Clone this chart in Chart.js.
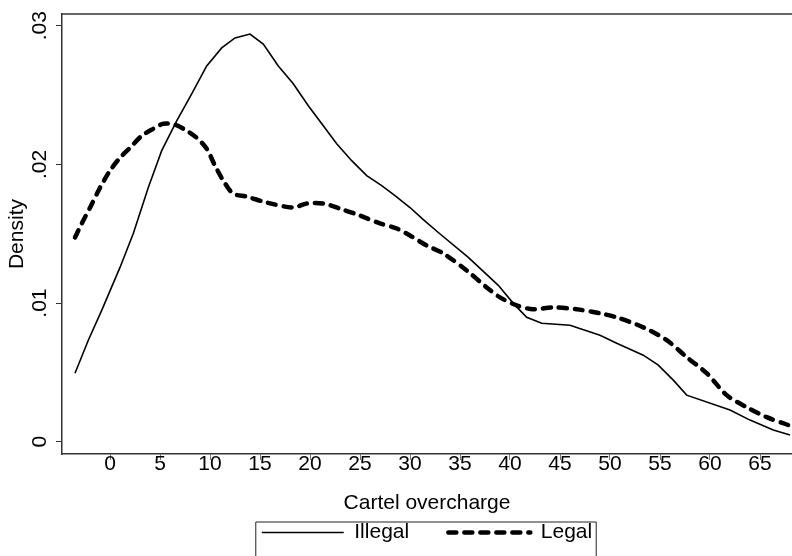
<!DOCTYPE html>
<html lang="en">
<head>
  <meta charset="UTF-8">
  <title>Cartel overcharge density</title>
  <script src="https://cdn.jsdelivr.net/npm/chart.js"></script>
  <style>
    html, body {
      margin: 0;
      padding: 0;
      background: #fff;
      overflow: hidden;
    }
    #wrap {
      position: relative;
      width: 792px;
      height: 556px;
    }
  </style>
</head>
<body>
  <div id="wrap"><canvas id="chart"></canvas></div>

  <script>
    // values (x = overcharge, y = density)
    const illegalX = [-3.5, -2.17, -0.83, 1.0, 2.33, 3.83, 5.17, 6.67, 8.17, 9.67, 11.17, 12.5, 14.0, 15.33,
      16.83, 18.33, 19.83, 21.33, 22.67, 24.17, 25.67, 27.17, 28.5, 30.0, 31.33, 32.83, 35.83, 38.83,
      40.33, 41.67, 43.17, 46.0, 49.0, 50.67, 53.33, 54.83, 56.33, 57.67, 62.0, 64.0, 66.33, 68.0];
    const illegalY = [0.00494, 0.00732, 0.00947, 0.01257, 0.01502, 0.01833, 0.02099, 0.02314, 0.02509,
      0.0271, 0.0284, 0.02912, 0.0294, 0.02868, 0.0271, 0.02581, 0.02423, 0.02279, 0.02149, 0.02027,
      0.01919, 0.01847, 0.01775, 0.01689, 0.01602, 0.01509, 0.01329, 0.01128, 0.00998, 0.00897,
      0.00854, 0.0084, 0.00768, 0.0071, 0.00624, 0.00552, 0.00444, 0.00336, 0.00228, 0.00156,
      0.00084, 0.00048];

    const legalX = [-3.5, -2.83, -2.0, -1.0, 0.0, 1.0, 2.0, 3.17, 4.33, 5.33, 6.5, 7.67, 8.67, 9.67, 10.5,
      11.33, 12.33, 13.67, 15.67, 18.33, 19.67, 21.33, 23.0, 25.0, 27.0, 28.67, 30.0, 31.67, 33.33,
      35.67, 37.67, 39.0, 40.67, 42.33, 44.33, 46.67, 49.0, 50.67, 53.33, 55.67, 57.67, 59.67, 61.67,
      63.67, 65.67, 67.83];
    const legalY = [0.01473, 0.01573, 0.01688, 0.01832, 0.01955, 0.02048, 0.0212, 0.02206, 0.02257,
      0.02293, 0.02286, 0.02243, 0.02192, 0.02113, 0.01991, 0.01883, 0.01789, 0.01768, 0.01725,
      0.01689, 0.01718, 0.01718, 0.01681, 0.01631, 0.01574, 0.01538, 0.01487, 0.01415, 0.01358,
      0.01235, 0.01113, 0.01041, 0.00983, 0.00955, 0.00969, 0.00955, 0.00926, 0.00897, 0.00825,
      0.00732, 0.0061, 0.00494, 0.00336, 0.00249, 0.00177, 0.0012];

    const xTicks = [0, 5, 10, 15, 20, 25, 30, 35, 40, 45, 50, 55, 60, 65];
    const yTicks = [0, 0.01, 0.02, 0.03];

    const FONT = '"Liberation Sans", Arial, Helvetica, sans-serif';
    const AXIS = '#333';

    function toPoints(xs, ys) {
      return xs.map((x, i) => ({ x: x, y: ys[i] }));
    }

    // top frame line + box round the legend
    const framePlugin = {
      id: 'frame',
      afterDraw(chart) {
        const ctx = chart.ctx;
        const a = chart.chartArea;
        ctx.save();
        ctx.strokeStyle = AXIS;
        ctx.lineWidth = 1.5;
        ctx.beginPath();
        ctx.moveTo(a.left, a.top);
        ctx.lineTo(a.right + 2, a.top);
        ctx.stroke();

        const hb = chart.legend.legendHitBoxes;
        if (hb && hb.length) {
          const first = hb[0];
          const last = hb[hb.length - 1];
          const left = first.left - 6;
          const right = last.left + last.width + 4;
          const top = first.top;
          ctx.lineWidth = 1;
          ctx.strokeStyle = '#222';
          ctx.beginPath();
          ctx.moveTo(left, chart.height + 5);
          ctx.lineTo(left, top);
          ctx.lineTo(right, top);
          ctx.lineTo(right, chart.height + 5);
          ctx.stroke();
        }
        ctx.restore();
      }
    };

    new Chart(document.getElementById('chart'), {
      type: 'line',
      data: {
        datasets: [{
          label: 'Illegal',
          data: toPoints(illegalX, illegalY),
          borderColor: '#000',
          backgroundColor: '#000',
          borderWidth: 1.6,
          pointRadius: 0,
          tension: 0,
          fill: false
        }, {
          label: 'Legal',
          data: toPoints(legalX, legalY),
          borderColor: '#000',
          backgroundColor: '#000',
          borderWidth: 4.5,
          borderDash: [8, 8],
          borderCapStyle: 'round',
          pointRadius: 0,
          tension: 0.3,
          fill: false
        }]
      },
      options: {
        responsive: true,
        maintainAspectRatio: false,
        animation: false,
        layout: { padding: { top: 13, left: 0, right: 0, bottom: 3 } },
        plugins: {
          tooltip: { enabled: false },
          legend: {
            position: 'bottom',
            fullSize: false,
            labels: {
              usePointStyle: true,
              pointStyle: 'line',
              pointStyleWidth: 82,
              padding: 10,
              color: '#000',
              font: { family: FONT, size: 21 },
              generateLabels(chart) {
                const items = Chart.defaults.plugins.legend.labels.generateLabels(chart);
                items.forEach((it, i) => {
                  const ds = chart.data.datasets[it.datasetIndex];
                  it.pointStyle = 'line';
                  it.lineDash = ds.borderDash || [];
                  it.lineCap = ds.borderCapStyle || 'butt';
                  it.lineWidth = ds.borderWidth;
                  if (i === 0) it.text = it.text + '     ';
                });
                return items;
              }
            }
          }
        },
        scales: {
          x: {
            type: 'linear',
            min: -4.8,
            max: 68.2,
            afterBuildTicks(scale) {
              scale.ticks = xTicks.map(v => ({ value: v }));
            },
            afterFit(scale) {
              scale.height = 58;
            },
            ticks: {
              autoSkip: false,
              maxRotation: 0,
              padding: -8,
              color: '#000',
              font: { family: FONT, size: 21 },
              callback: v => String(v)
            },
            grid: {
              drawOnChartArea: false,
              drawTicks: true,
              tickLength: 6,
              color: '#777'
            },
            border: { display: true, color: AXIS, width: 1.5 },
            title: {
              display: true,
              text: 'Cartel overcharge',
              color: '#000',
              font: { family: FONT, size: 21 },
              padding: { top: 0, bottom: -4 }
            }
          },
          y: {
            type: 'linear',
            min: -0.000885,
            max: 0.03084,
            afterBuildTicks(scale) {
              scale.ticks = yTicks.map(v => ({ value: v }));
            },
            afterFit(scale) {
              scale.width = 62;
            },
            ticks: {
              minRotation: 90,
              maxRotation: 90,
              crossAlign: 'center',
              padding: 1.5,
              color: '#000',
              font: { family: FONT, size: 21 },
              callback: v => v === 0 ? '0' : v.toFixed(2).replace(/^0/, '')
            },
            grid: {
              drawOnChartArea: false,
              drawTicks: true,
              tickLength: 6,
              color: '#333'
            },
            border: { display: true, color: AXIS, width: 1.5 },
            title: {
              display: true,
              text: 'Density',
              color: '#000',
              font: { family: FONT, size: 21 },
              padding: { top: 5, bottom: 0 }
            }
          }
        }
      },
      plugins: [framePlugin]
    });
  </script>
</body>
</html>
